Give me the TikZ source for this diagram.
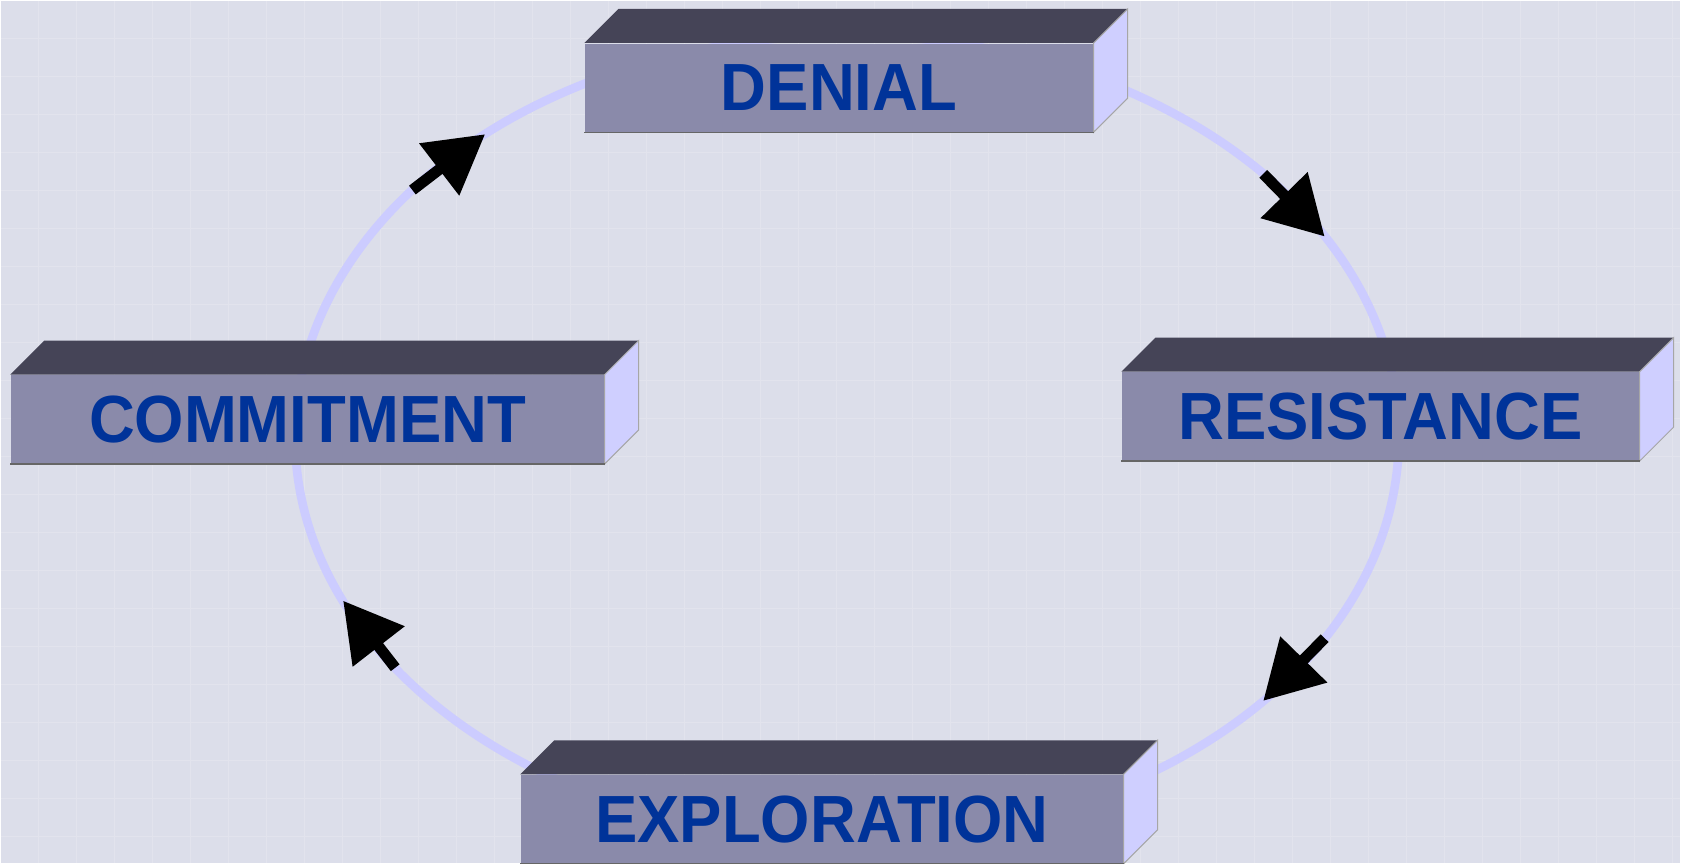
\documentclass[tikz,border=0pt]{standalone}
\usepackage{fontspec}
\usepackage{xcolor}
\usetikzlibrary{arrows.meta,positioning}
\newfontfamily\stagefont{Liberation Sans}[FakeStretch=0.95]

\definecolor{bgcol}{HTML}{DCDEEA}
\definecolor{ringcol}{HTML}{CCCCFF}
\definecolor{facecol}{HTML}{8A8AAA}
\definecolor{topcol}{HTML}{454457}
\definecolor{sidecol}{HTML}{CFCFFF}
\definecolor{txtcol}{HTML}{003399}

\tikzset{
  stage/.style={fill=facecol,inner sep=0pt,minimum height=0.88cm,
    text=txtcol,font=\stagefont\bfseries\fontsize{19}{19}\selectfont},
  topface/.style={fill=topcol},
  sideface/.style={fill=sidecol,draw=gray!70,line width=0.3pt},
  ring/.style={draw=ringcol,line width=0.086cm},
  flowarrow/.style={line width=0.11cm,-{Triangle[length=5.8mm,width=6.3mm]}}
}

\begin{document}
\begin{tikzpicture}[x=0.01cm,y=-0.01cm]
\fill[bgcol] (0,0) rectangle (1681,863);
\draw[white,opacity=0.18,step=0.38cm] (0,0) grid (1681,863);
\useasboundingbox (0,0) rectangle (1681,863);

\draw[ring] (847,437) ellipse [x radius=5.52cm,y radius=4.02cm];

\node[stage,minimum width=5.08cm] (denial) at (839,87) {DENIAL};
\node[stage,minimum width=5.17cm] (resistance) at (1381,416) {RESISTANCE};
\node[stage,minimum width=6.02cm] (exploration) at (822,819) {EXPLORATION};
\node[stage,minimum width=5.93cm] (commitment) at (307,419) {COMMITMENT};

\foreach \n in {denial,resistance,exploration,commitment}{
  \fill[topface] (\n.north west) -- ++(0.34cm,0.34cm)
    -- ([shift={(0.34cm,0.34cm)}]\n.north east) -- (\n.north east) -- cycle;
  \filldraw[sideface] (\n.north east) -- ++(0.34cm,0.34cm)
    -- ([shift={(0.34cm,0.34cm)}]\n.south east) -- (\n.south east) -- cycle;
  \draw[gray!80!black,line width=0.4pt] (\n.south west) -- (\n.south east);
}

\foreach \s/\e [count=\i] in {218/229,319/330,30/41,145/156}{
  \coordinate (s\i) at ({847+552*cos(\s)},{437+402*sin(\s)});
  \coordinate (e\i) at ({847+552*cos(\e)},{437+402*sin(\e)});
  \draw[flowarrow] (s\i) -- (e\i);
}
\end{tikzpicture}
\end{document}
